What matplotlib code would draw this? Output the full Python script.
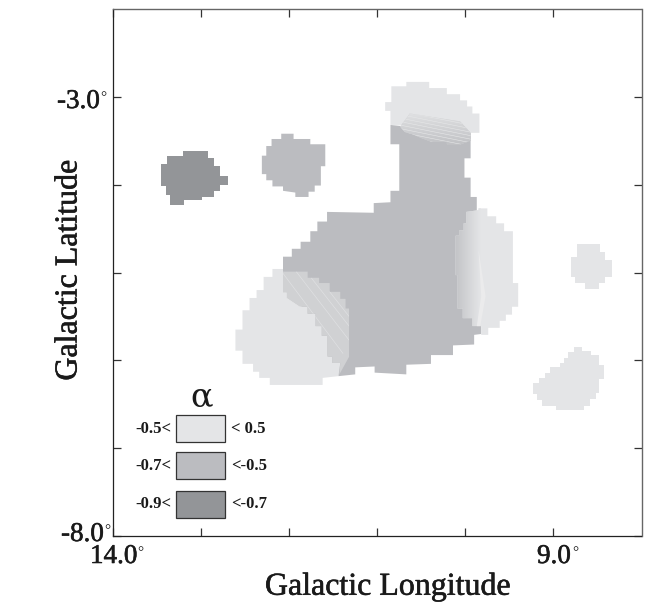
#!/usr/bin/env python
import numpy as np
import matplotlib
matplotlib.use('Agg')
import matplotlib.pyplot as plt
import matplotlib.patheffects as pe
from matplotlib.colors import LinearSegmentedColormap
from matplotlib.patches import Polygon, Rectangle

plt.rcParams['font.family'] = ['Liberation Serif', 'DejaVu Serif']

LIGHT = '#e4e5e7'
MEDIUM = '#bbbcc0'
DARK = '#939598'
BLEND = '#d0d1d3'
INK = '#1a1a1a'

# outlines of the spectral index regions (longitude, latitude in degrees)
main_region = [(10.85,-3.32),(10.85,-3.54),(10.75,-3.54),(10.75,-4.07),(10.85,-4.07),(10.85,-4.20),
    (11.04,-4.21),(11.04,-4.32),(11.57,-4.31),(11.57,-4.42),(11.68,-4.42),(11.68,-4.53),(11.76,-4.53),
    (11.76,-4.65),(11.87,-4.65),(11.87,-4.73),(11.97,-4.73),(11.97,-4.82),(12.07,-4.82),(12.07,-4.99),
    (11.44,-6.18),(11.25,-6.16),(11.25,-6.08),(11.03,-6.07),(11.03,-6.14),(10.67,-6.16),(10.67,-6.05),
    (10.39,-6.04),(10.39,-5.94),(10.14,-5.94),(10.14,-5.83),(9.90,-5.82),(9.90,-5.71),(9.82,-5.70),
    (9.82,-5.61),(9.87,-5.61),(9.87,-4.14),(9.94,-4.14),(9.94,-3.92),(10.01,-3.92),(10.01,-3.70),
    (9.94,-3.70),(9.94,-3.41)]
right_lobe = [(9.99,-4.31),(9.85,-4.29),(9.85,-4.27),(9.75,-4.27),(9.75,-4.36),(9.65,-4.36),(9.65,-4.44),
    (9.56,-4.44),(9.56,-4.53),(9.46,-4.53),(9.46,-5.12),(9.40,-5.12),(9.40,-5.39),(9.47,-5.39),(9.47,-5.48),
    (9.54,-5.48),(9.54,-5.55),(9.61,-5.55),(9.61,-5.63),(9.74,-5.63),(9.74,-5.71),(9.82,-5.71),(9.82,-5.61),
    (9.92,-5.61),(9.92,-5.52),(10.03,-5.52),(10.03,-5.41),(10.09,-5.41),(10.09,-5.03),(10.11,-5.03),
    (10.11,-4.58),(10.07,-4.58),(10.07,-4.52),(10.02,-4.52),(10.02,-4.44),(9.99,-4.44)]
sliver = [(9.85,-4.74),(9.77,-5.27),(9.83,-5.61),(9.87,-5.61),(9.82,-5.27)]
top_lobe = [(10.84,-2.88),(10.67,-2.88),(10.67,-2.83),(10.41,-2.83),(10.41,-2.90),(10.21,-2.90),(10.21,-2.97),
    (10.06,-2.97),(10.06,-3.04),(9.98,-3.04),(9.98,-3.11),(9.92,-3.11),(9.92,-3.19),(9.84,-3.19),(9.84,-3.41),
    (9.94,-3.41),(10.74,-3.32),(10.85,-3.32),(10.85,-3.16),(10.91,-3.16),(10.91,-3.06),(10.84,-3.06)]
top_blend = [(10.63,-3.19),(10.06,-3.28),(9.94,-3.41),(9.94,-3.50),(10.05,-3.54),(10.21,-3.54),(10.21,-3.51),
    (10.39,-3.51),(10.50,-3.47),(10.59,-3.43),(10.69,-3.40),(10.74,-3.34)]
left_lobe = [(12.19,-4.96),(12.07,-4.96),(12.07,-5.23),(12.03,-5.23),(12.03,-5.29),(11.88,-5.39),(11.79,-5.39),
    (11.79,-5.47),(11.70,-5.47),(11.70,-5.61),(11.63,-5.61),(11.63,-5.72),(11.57,-5.72),(11.57,-5.96),
    (11.51,-5.96),(11.51,-6.03),(11.42,-6.03),(11.44,-6.18),(11.62,-6.20),(11.62,-6.28),(12.22,-6.28),
    (12.22,-6.20),(12.34,-6.20),(12.34,-6.13),(12.41,-6.13),(12.41,-6.04),(12.53,-6.04),(12.53,-5.89),
    (12.61,-5.89),(12.61,-5.65),(12.53,-5.65),(12.53,-5.43),(12.45,-5.43),(12.45,-5.29),(12.37,-5.29),
    (12.37,-5.20),(12.29,-5.20),(12.29,-5.05),(12.19,-5.05)]
left_blend = [(12.07,-4.99),(11.79,-4.99),(11.79,-5.06),(11.66,-5.06),(11.66,-5.12),(11.54,-5.12),(11.54,-5.22),
    (11.42,-5.22),(11.42,-5.30),(11.36,-5.30),(11.36,-5.41),(11.32,-5.41),(11.32,-5.96),(11.43,-6.16),
    (11.42,-6.03),(11.51,-6.03),(11.51,-5.96),(11.57,-5.96),(11.57,-5.72),(11.63,-5.72),(11.63,-5.61),
    (11.70,-5.61),(11.70,-5.47),(11.79,-5.47),(11.79,-5.39),(11.88,-5.39),(12.03,-5.29),(12.03,-5.23),(12.07,-5.23)]
medium_blob = [(12.20,-3.48),(12.09,-3.48),(12.09,-3.42),(11.95,-3.42),(11.95,-3.48),(11.76,-3.48),(11.76,-3.54),
    (11.59,-3.54),(11.59,-3.79),(11.64,-3.79),(11.64,-4.01),(11.71,-4.01),(11.71,-4.08),(11.78,-4.08),
    (11.78,-4.14),(11.93,-4.14),(11.93,-4.09),(12.07,-4.07),(12.07,-4.02),(12.19,-4.02),(12.19,-3.95),
    (12.26,-3.95),(12.26,-3.88),(12.31,-3.88),(12.31,-3.67),(12.26,-3.67),(12.26,-3.56),(12.20,-3.56)]
dark_blob = [(13.20,-3.62),(12.92,-3.62),(12.92,-3.70),(12.85,-3.70),(12.85,-3.79),(12.78,-3.79),(12.78,-3.90),
    (12.70,-3.90),(12.70,-4.00),(12.78,-4.00),(12.78,-4.07),(12.85,-4.07),(12.85,-4.14),(12.99,-4.14),
    (12.99,-4.18),(13.19,-4.18),(13.19,-4.23),(13.35,-4.23),(13.35,-4.12),(13.40,-4.12),(13.40,-4.01),
    (13.45,-4.01),(13.45,-3.76),(13.39,-3.76),(13.39,-3.67),(13.20,-3.67)]
right_blob = [(8.73,-4.68),(8.47,-4.68),(8.47,-4.77),(8.41,-4.77),(8.41,-4.86),(8.34,-4.86),(8.34,-5.05),
    (8.41,-5.05),(8.41,-5.12),(8.48,-5.12),(8.48,-5.19),(8.64,-5.19),(8.64,-5.12),(8.76,-5.12),(8.76,-5.05),
    (8.80,-5.05),(8.80,-4.82),(8.73,-4.82)]
lower_blob = [(8.77,-5.85),(8.68,-5.85),(8.68,-5.89),(8.57,-5.89),(8.57,-5.94),(8.48,-5.94),(8.48,-6.05),
    (8.43,-6.05),(8.43,-6.21),(8.48,-6.21),(8.48,-6.37),(8.52,-6.37),(8.52,-6.44),(8.59,-6.44),(8.59,-6.52),
    (8.65,-6.52),(8.65,-6.57),(8.97,-6.57),(8.97,-6.52),(9.13,-6.52),(9.13,-6.45),(9.19,-6.45),(9.19,-6.38),
    (9.23,-6.38),(9.23,-6.26),(9.16,-6.26),(9.16,-6.20),(9.10,-6.20),(9.10,-6.14),(9.04,-6.14),(9.04,-6.08),
    (8.93,-6.08),(8.93,-6.03),(8.88,-6.03),(8.88,-5.97),(8.83,-5.97),(8.83,-5.91),(8.77,-5.91)]

# hatch lines in the two blended zones
left_lines = [((12.07,11.39),(-5.01,-5.92)), ((11.92,11.32),(-4.99,-5.77)),
    ((11.75,11.32),(-5.06,-5.61)), ((11.54,11.32),(-5.22,-5.50))]
top_line_lats = [-3.16,-3.20,-3.24,-3.28,-3.32,-3.36,-3.40,-3.44]
top_line_lons = (10.75, 9.90)
top_line_drop = -0.17

lon_ticks = [14, 13, 12, 11, 10, 9]
lat_ticks = [-8, -7, -6, -5, -4, -3]

legend_colors = [LIGHT, MEDIUM, DARK]
legend_low = ['-0.5<', '-0.7<', '-0.9<']
legend_high = ['< 0.5', '<-0.5', '<-0.7']
legend_tops = [-6.627, -7.048, -7.484]
legend_bottoms = [-6.934, -7.350, -7.794]

# tick label text, with the left edge and baseline of the number in pixels
tick_texts = ['-3.0', '-8.0', '14.0', '9.0']
tick_x = [57, 61, 90, 537]
tick_base = [108, 541, 563, 563]
degree_x = [100.5, 104, 137, 572]

fig = plt.figure(figsize=(6.5, 6.02), dpi=100)
ax = fig.add_axes([113/650, 66/602, 528.5/650, 527/602])
heavy = [pe.withStroke(linewidth=0.4, foreground=INK)]

for pts, col in [(main_region, MEDIUM), (medium_blob, MEDIUM), (dark_blob, DARK), (top_lobe, LIGHT),
                 (left_lobe, LIGHT), (right_blob, LIGHT), (lower_blob, LIGHT)]:
    ax.add_patch(Polygon(pts, closed=True, fc=col, ec='none', zorder=2))

# right lobe shades from the medium grey into the light grey
lobe = Polygon(right_lobe, closed=True, fc=LIGHT, ec='none', zorder=2)
ax.add_patch(lobe)
cmap = LinearSegmentedColormap.from_list('blend', ['#c4c5c8', LIGHT])
grad = ax.imshow(np.linspace(0, 1, 30).reshape(1, -1), extent=(10.11, 9.83, -5.71, -4.27),
                 cmap=cmap, aspect='auto', zorder=3)
grad.set_clip_path(lobe)
ax.add_patch(Polygon(sliver, closed=True, fc='#ebebec', ec='none', zorder=4))

# top overlap fades downward from light to medium
top_patch = Polygon(top_blend, closed=True, fc=BLEND, ec='none', zorder=3)
left_patch = Polygon(left_blend, closed=True, fc=BLEND, ec='none', zorder=3)
ax.add_patch(top_patch)
ax.add_patch(left_patch)
cmap2 = LinearSegmentedColormap.from_list('fade', ['#dfe0e2', '#c2c3c6'])
fade = ax.imshow(np.linspace(0, 1, 30).reshape(-1, 1), extent=(10.74, 9.94, -3.54, -3.19),
                 cmap=cmap2, aspect='auto', zorder=3)
fade.set_clip_path(top_patch)
for xs, ys in left_lines:
    ln, = ax.plot(xs, ys, color='#dfe0e2', lw=0.5, zorder=4)
    ln.set_clip_path(left_patch)
for lat in top_line_lats:
    ln, = ax.plot(top_line_lons, (lat, lat + top_line_drop), color='#e6e7e8', lw=0.4, zorder=4)
    ln.set_clip_path(top_patch)

ax.set_xlim(14, 8)
ax.set_ylim(-8, -2)
ax.set_xticks(lon_ticks)
ax.set_yticks(lat_ticks)
ax.set_xticklabels([])
ax.set_yticklabels([])
ax.tick_params(axis='both', direction='in', length=6, width=0.9, top=True, right=True, color='#333333')
for name in ['left', 'bottom']:
    ax.spines[name].set_linewidth(0.9)
    ax.spines[name].set_color('#222222')
for name in ['top', 'right']:
    ax.spines[name].set_linewidth(1.0)
    ax.spines[name].set_color('#666666')

for label, x, base, dx in zip(tick_texts, tick_x, tick_base, degree_x):
    fig.text(x/650, 1 - base/602, label, ha='left', va='baseline', fontsize=19.5, color=INK, path_effects=heavy)
    fig.text(dx/650, 1 - (base - 7)/602, '°', ha='left', va='baseline', fontsize=11, color=INK)

# legend drawn inside the axes
for col, low, high, top, bot in zip(legend_colors, legend_low, legend_high, legend_tops, legend_bottoms):
    ax.add_patch(Rectangle((13.285, bot), -0.556, top - bot, fc=col, ec='#333333', lw=0.9, zorder=5))
    ax.text(13.34, (top + bot) / 2, low, ha='right', va='center', fontsize=12, fontweight='bold', color=INK)
    ax.text(12.66, (top + bot) / 2, high, ha='left', va='center', fontsize=12, fontweight='bold', color=INK)
ax.text(12.99, -6.42, 'α', ha='center', va='center', fontsize=24, color=INK, family=['DejaVu Serif'])

fig.text(388/650, 1 - 587/602, 'Galactic Longitude', ha='center', va='center', fontsize=23, color=INK, path_effects=heavy)
fig.text(69/650, 1 - 270/602, 'Galactic Latitude', ha='center', va='center', rotation=90, fontsize=23, color=INK, path_effects=heavy)

fig.savefig('out.png', dpi=100)
